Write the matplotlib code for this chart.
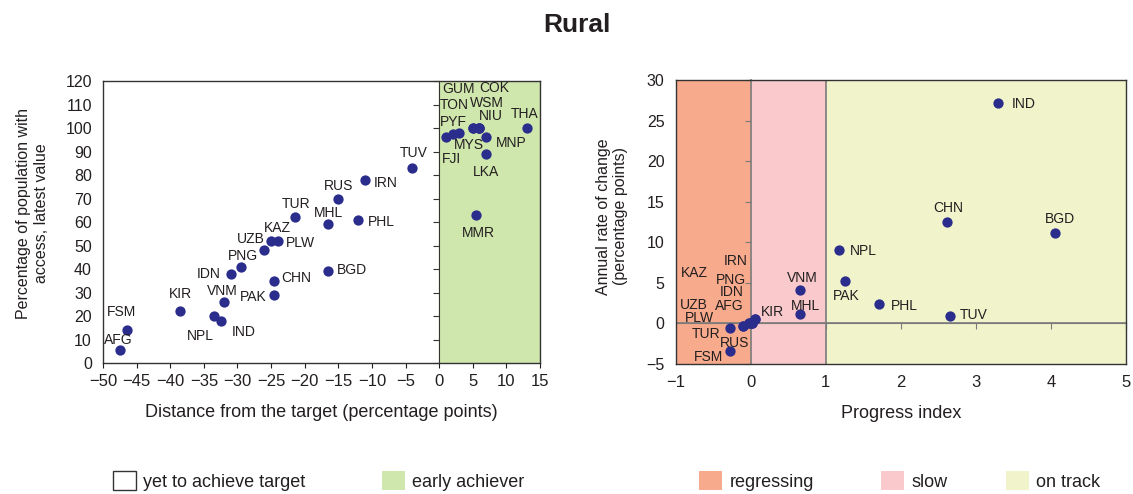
import matplotlib
matplotlib.use("Agg")
import matplotlib.pyplot as plt
from matplotlib.patches import Patch

plt.rcParams['font.family'] = ['Liberation Sans', 'DejaVu Sans']

# ---- data: left panel (distance from target vs. latest access) ----
left_codes = ["AFG", "FSM", "KIR", "NPL", "IND", "VNM", "IDN", "PNG", "UZB", "KAZ",
              "PLW", "CHN", "PAK", "TUR", "MHL", "BGD", "RUS", "PHL", "IRN", "TUV",
              "FJI", "PYF", "MYS", "GUM", "TON", "COK", "WSM", "NIU", "LKA", "MNP",
              "MMR", "THA"]
left_dist = [-47.5, -46.5, -38.5, -33.5, -32.4, -32.0, -31.0, -29.5, -26.0, -25.0,
             -24.0, -24.5, -24.5, -21.5, -16.6, -16.6, -15.1, -12.0, -11.0, -4.0,
             1.0, 2.0, 3.0, 5.0, 5.0, 6.0, 6.0, 6.0, 7.0, 7.0,
             5.5, 13.0]
left_pct = [5.5, 14.0, 22.0, 20.0, 18.0, 26.0, 38.0, 41.0, 48.0, 52.0,
            52.0, 35.0, 29.0, 62.0, 59.0, 39.0, 70.0, 61.0, 78.0, 83.0,
            96.0, 97.3, 98.0, 100.0, 100.0, 100.0, 100.0, 100.0, 89.0, 96.0,
            63.0, 100.0]

# ---- data: right panel (progress index vs. annual rate of change) ----
right_codes = ["IND", "CHN", "BGD", "NPL", "PAK", "VNM", "MHL", "PHL", "TUV", "KIR",
               "IRN", "KAZ", "PNG", "IDN", "UZB", "AFG", "PLW", "RUS", "TUR", "FSM"]
right_prog = [3.30, 2.61, 4.05, 1.17, 1.26, 0.65, 0.65, 1.71, 2.66, 0.06,
              0.06, 0.01, 0.01, 0.01, -0.03, -0.03, -0.11, -0.11, -0.28, -0.28]
right_rate = [27.2, 12.5, 11.1, 9.1, 5.2, 4.1, 1.2, 2.35, 0.95, 0.5,
              0.5, 0.0, 0.0, 0.0, 0.1, 0.1, -0.3, -0.3, -0.6, -3.4]

# label offsets (pixels) relative to each dot
left_off = {"AFG": (-2, 10), "FSM": (-5, 18), "KIR": (0, 17), "NPL": (-14, -20),
            "IND": (22, -11), "VNM": (-2, 11), "IDN": (-22, 0), "PNG": (2, 11),
            "UZB": (-14, 11), "KAZ": (6, 13), "PLW": (23, -2), "CHN": (22, 3),
            "PAK": (-21, -2), "TUR": (1, 13), "MHL": (1, 11), "BGD": (24, 1),
            "RUS": (1, 13), "PHL": (23, -2), "IRN": (20, -3), "TUV": (1, 15),
            "FJI": (6, -22), "PYF": (1, 12), "MYS": (10, -12), "GUM": (-14, 39),
            "TON": (-19, 23), "COK": (15, 40), "WSM": (7, 25), "NIU": (11, 12),
            "LKA": (0, -18), "MNP": (25, -6), "MMR": (2, -18), "THA": (-2, 14)}
right_off = {"IND": (25, -1), "CHN": (2, 14), "BGD": (5, 14), "NPL": (25, -1),
             "PAK": (1, -15), "VNM": (3, 12), "MHL": (6, 8), "PHL": (25, -2),
             "TUV": (23, 1), "KIR": (17, 7), "IRN": (-20, 58), "KAZ": (-57, 50),
             "PNG": (-21, 43), "IDN": (-20, 31), "UZB": (-55, 18), "AFG": (-19, 17),
             "PLW": (-43, 8), "RUS": (-8, -17), "TUR": (-24, -6), "FSM": (-21, -6)}

dot = "#2b2d8c"
green = "#cfe6ac"
c_regress = "#f8aa8c"
c_slow = "#f9c9cb"
c_track = "#f1f3cb"
txt = "#231f20"

fig = plt.figure(figsize=(11.33, 4.94), dpi=100)
fig.text(577 / 1133, 0.949, "Rural", ha="center", va="center", fontsize=19,
         fontweight="bold", color=txt)

# ---------------- left panel ----------------
ax1 = fig.add_axes([0.0909, 0.265, 0.3857, 0.571])
ax1.axvspan(0, 15, color=green, zorder=0)
ax1.scatter(left_dist, left_pct, s=55, color=dot, zorder=3, linewidths=0)
for c, x, y in zip(left_codes, left_dist, left_pct):
    ax1.annotate(c, (x, y), xytext=left_off[c], textcoords="offset pixels",
                 ha="center", va="center", fontsize=10, color=txt, zorder=4)
ax1.set_xlim(-50, 15)
ax1.set_ylim(0, 120)
ax1.set_xticks(range(-50, 16, 5))
ax1.set_yticks(range(0, 121, 10))
ax1.tick_params(axis="y", length=0, labelsize=11.5, colors=txt, pad=8)
ax1.tick_params(axis="x", direction="out", length=3.5, labelsize=12, colors=txt, pad=4)
for s in ax1.spines.values():
    s.set_color("#333333")
    s.set_linewidth(1.0)
sec1 = ax1.secondary_yaxis(50 / 65)
sec1.set_yticks(range(0, 121, 10))
sec1.yaxis.set_ticks_position("left")
sec1.tick_params(direction="out", length=4, labelleft=False, labelright=False,
                 color="#333333")
sec1.spines["left"].set_color("#333333")
sec1.spines["right"].set_color("#333333")
ax1.set_xlabel("Distance from the target (percentage points)", fontsize=13,
               color=txt, labelpad=11)
ax1.set_ylabel("Percentage of population with\naccess, latest value", fontsize=11.5,
               color=txt)
ax1.yaxis.set_label_coords(-0.124, 0.53)

# ---------------- right panel ----------------
ax2 = fig.add_axes([0.5964, 0.263, 0.3974, 0.575])
ax2.axvspan(-1, 0, color=c_regress, zorder=0)
ax2.axvspan(0, 1, color=c_slow, zorder=0)
ax2.axvspan(1, 5, color=c_track, zorder=0)
ax2.axhline(0, color="#7a7a7a", lw=1.2, zorder=1)
ax2.axvline(1, color="#7a7a7a", lw=1.2, zorder=1)
ax2.scatter(right_prog, right_rate, s=55, color=dot, zorder=3, linewidths=0)
for c, x, y in zip(right_codes, right_prog, right_rate):
    ax2.annotate(c, (x, y), xytext=right_off[c], textcoords="offset pixels",
                 ha="center", va="center", fontsize=10, color=txt, zorder=4)
ax2.set_xlim(-1, 5)
ax2.set_ylim(-5, 30)
ax2.set_xticks(range(-1, 6))
ax2.set_yticks(range(-5, 31, 5))
ax2.tick_params(length=0, colors=txt)
ax2.tick_params(axis="x", pad=8, labelsize=12)
ax2.tick_params(axis="y", pad=8, labelsize=11.5)
for s in ax2.spines.values():
    s.set_color("#333333")
    s.set_linewidth(1.0)
sec2y = ax2.secondary_yaxis(1 / 6)
sec2y.set_yticks(range(-5, 31, 5))
sec2y.yaxis.set_ticks_position("left")
sec2y.tick_params(direction="out", length=4, labelleft=False, labelright=False,
                  color="#7a7a7a")
sec2y.spines["left"].set_color("#7a7a7a")
sec2y.spines["left"].set_linewidth(1.2)
sec2y.spines["right"].set_color("#7a7a7a")
sec2x = ax2.secondary_xaxis(5 / 35)
sec2x.set_xticks(range(0, 6))
sec2x.xaxis.set_ticks_position("bottom")
sec2x.tick_params(direction="out", length=4, labelbottom=False, labeltop=False,
                  color="#7a7a7a")
sec2x.spines["bottom"].set_color("#7a7a7a")
sec2x.spines["top"].set_color("#7a7a7a")
ax2.set_xlabel("Progress index", fontsize=13, color=txt, labelpad=11)
ax2.set_ylabel("Annual rate of change\n(percentage points)", fontsize=11.5,
               color=txt)
ax2.yaxis.set_label_coords(-0.105, 0.52)

# ---------------- legend: one entry per patch position ----------------
leg_kw = dict(frameon=False, fontsize=13, handlelength=1.28, handleheight=1.22,
              handletextpad=0.4, borderpad=0, borderaxespad=0, loc="center left",
              labelcolor=txt)
legend_items = [
    (113, Patch(facecolor="white", edgecolor="#333333", linewidth=1.0),
     "yet to achieve target"),
    (382, Patch(facecolor=green), "early achiever"),
    (699, Patch(facecolor=c_regress), "regressing"),
    (881, Patch(facecolor=c_slow), "slow"),
    (1006, Patch(facecolor=c_track), "on track"),
]
for xpix, handle, label in legend_items:
    fig.legend([handle], [label], bbox_to_anchor=(xpix / 1133, 1 - 481 / 494),
               **leg_kw)

fig.savefig("out.png", dpi=100)
